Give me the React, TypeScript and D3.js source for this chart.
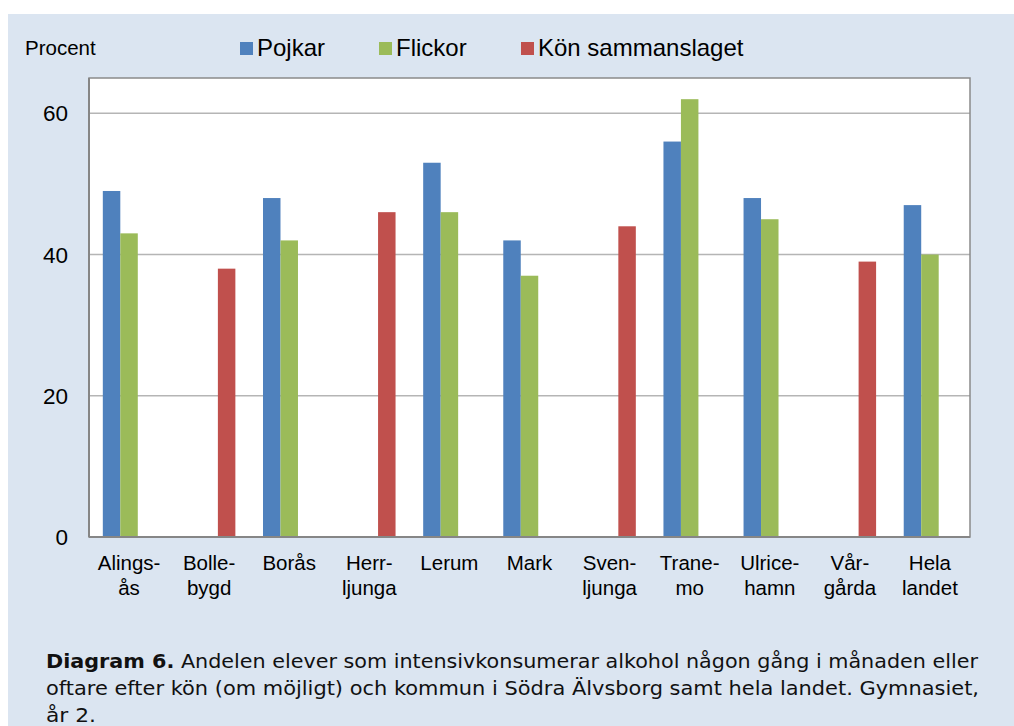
import React from "react";
import * as d3 from "d3";

const categories = [
  ["Alings-", "ås"],
  ["Bolle-", "bygd"],
  ["Borås"],
  ["Herr-", "ljunga"],
  ["Lerum"],
  ["Mark"],
  ["Sven-", "ljunga"],
  ["Trane-", "mo"],
  ["Ulrice-", "hamn"],
  ["Vår-", "gårda"],
  ["Hela", "landet"],
];
const seriesNames = ["Pojkar", "Flickor", "Kön sammanslaget"];
const seriesColors = ["#4f81bd", "#9bbb59", "#c0504d"];

// null = no bar for that municipality
const pojkar = [49, null, 48, null, 53, 42, null, 56, 48, null, 47];
const flickor = [43, null, 42, null, 46, 37, null, 62, 45, null, 40];
const konSammanslaget = [null, 38, null, 46, null, null, 44, null, null, 39, null];
const yTicks = [0, 20, 40, 60];

const W = 1014;
const H = 726;
const margin = { left: 89, right: 44, top: 78, bottom: 189 };
const font = "'Liberation Sans', Arial, sans-serif";

export default function App() {
  const series = [pojkar, flickor, konSammanslaget];
  const keys = categories.map((c) => c.join(""));

  const x = d3
    .scaleBand()
    .domain(keys)
    .range([margin.left, W - margin.right])
    .paddingInner(0.345)
    .paddingOuter(0.1725);

  const xs = d3
    .scaleBand()
    .domain(seriesNames)
    .range([0, x.bandwidth()]);

  const y = d3
    .scaleLinear()
    .domain([0, 65])
    .range([H - margin.bottom, margin.top]);

  const legendX = [240, 379, 521];

  return (
    <svg
      width={W}
      height={H}
      style={{ position: "absolute", left: 0, top: 0, display: "block" }}
    >
      <rect x={0} y={0} width={W} height={H} fill="#fff" />
      <rect x={8} y={14} width={W - 8} height={H - 14} fill="#dbe5f1" />

      {/* plot area */}
      <rect
        x={margin.left}
        y={margin.top}
        width={W - margin.left - margin.right}
        height={H - margin.top - margin.bottom}
        fill="#fff"
      />
      {yTicks
        .filter((t) => t > 0)
        .map((t) => (
          <line
            key={t}
            x1={margin.left}
            x2={W - margin.right}
            y1={y(t)}
            y2={y(t)}
            stroke="#b5b5b5"
            strokeWidth={1.5}
          />
        ))}

      {series.map((vals, si) =>
        vals.map((v, i) =>
          v == null ? null : (
            <rect
              key={`${si}-${i}`}
              x={(x(keys[i]) as number) + (xs(seriesNames[si]) as number)}
              y={y(v)}
              width={xs.bandwidth()}
              height={y(0) - y(v)}
              fill={seriesColors[si]}
            />
          )
        )
      )}

      <rect
        x={margin.left}
        y={margin.top}
        width={W - margin.left - margin.right}
        height={H - margin.top - margin.bottom}
        fill="none"
        stroke="#8a8a8a"
        strokeWidth={1.5}
      />
      <line
        x1={margin.left}
        x2={margin.left}
        y1={margin.top}
        y2={y(0)}
        stroke="#868686"
        strokeWidth={2}
      />
      <line
        x1={margin.left}
        x2={W - margin.right}
        y1={y(0)}
        y2={y(0)}
        stroke="#868686"
        strokeWidth={2}
      />

      {/* y tick labels */}
      {yTicks.map((t) => (
        <text
          key={t}
          x={68}
          y={y(t)}
          dy="0.36em"
          textAnchor="end"
          fontFamily={font}
          fontSize={22.5}
          fill="#000"
        >
          {t}
        </text>
      ))}

      {/* category labels */}
      {categories.map((c, i) => (
        <text
          key={keys[i]}
          textAnchor="middle"
          fontFamily={font}
          fontSize={20.5}
          fill="#000"
        >
          {c.map((line, li) => (
            <tspan
              key={li}
              x={(x(keys[i]) as number) + x.bandwidth() / 2}
              y={570 + li * 25}
            >
              {line}
            </tspan>
          ))}
        </text>
      ))}

      {/* legend */}
      <text x={25} y={55} fontFamily={font} fontSize={20.5} fill="#000">
        Procent
      </text>
      {seriesNames.map((name, si) => (
        <g key={name}>
          <rect
            x={legendX[si]}
            y={42}
            width={13}
            height={13}
            fill={seriesColors[si]}
          />
          <text
            x={legendX[si] + 17}
            y={56}
            fontFamily={font}
            fontSize={24}
            fill="#000"
          >
            {name}
          </text>
        </g>
      ))}

      {/* caption */}
      <g fontFamily="'DejaVu Sans', Verdana, sans-serif" fontSize={20} fill="#111">
        <text
          x={46}
          y={668}
          textLength={932}
          lengthAdjust="spacingAndGlyphs"
        >
          <tspan fontWeight="bold">Diagram 6.</tspan> Andelen elever som
          intensivkonsumerar alkohol någon gång i månaden eller
        </text>
        <text
          x={46}
          y={695}
          textLength={933}
          lengthAdjust="spacingAndGlyphs"
        >
          oftare efter kön (om möjligt) och kommun i Södra Älvsborg samt hela
          landet. Gymnasiet,
        </text>
        <text x={46} y={722} textLength={50} lengthAdjust="spacingAndGlyphs">
          år 2.
        </text>
      </g>
    </svg>
  );
}
